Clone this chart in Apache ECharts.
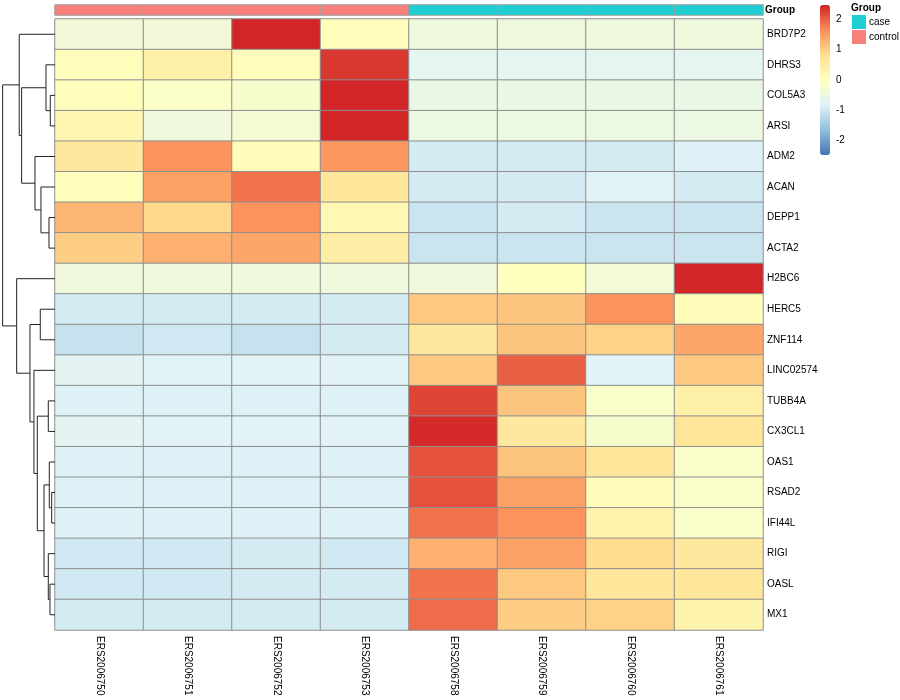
<!DOCTYPE html>
<html><head><meta charset="utf-8">
<script src="https://cdn.jsdelivr.net/npm/echarts@6/dist/echarts.min.js"></script>
<style>html,body{margin:0;padding:0;background:#fff}#c{width:900px;height:700px}</style>
</head><body><div id="c"></div><script>
const samples = ['ERS2006750','ERS2006751','ERS2006752','ERS2006753','ERS2006758','ERS2006759','ERS2006760','ERS2006761'];
const sampleGroup = ['control','control','control','control','case','case','case','case'];
const groupLevels = ['case','control'];
const genes = ['BRD7P2','DHRS3','COL5A3','ARSI','ADM2','ACAN','DEPP1','ACTA2','H2BC6','HERC5','ZNF114','LINC02574','TUBB4A','CX3CL1','OAS1','RSAD2','IFI44L','RIGI','OASL','MX1'];
// row z-scores, one array per gene (display order)
const zBRD7P2   = [-0.38,-0.38, 2.45, 0.05,-0.42,-0.45,-0.43,-0.44];
const zDHRS3    = [ 0.05, 0.40, 0.05, 2.30,-0.70,-0.70,-0.70,-0.70];
const zCOL5A3   = [ 0.05,-0.10,-0.20, 2.45,-0.55,-0.55,-0.55,-0.55];
const zARSI     = [ 0.25,-0.40,-0.30, 2.45,-0.50,-0.50,-0.50,-0.50];
const zADM2     = [ 0.60, 1.60, 0.10, 1.55,-0.95,-0.95,-0.95,-0.85];
const zACAN     = [ 0.05, 1.45, 1.85, 0.65,-0.95,-0.95,-0.80,-0.95];
const zDEPP1    = [ 1.25, 0.90, 1.60, 0.20,-1.05,-0.95,-1.05,-1.05];
const zACTA2    = [ 1.00, 1.30, 1.40, 0.45,-1.05,-1.05,-1.05,-1.05];
const zH2BC6    = [-0.40,-0.40,-0.40,-0.40,-0.40, 0.00,-0.35, 2.45];
const zHERC5    = [-0.95,-0.95,-0.95,-0.95, 1.05, 1.10, 1.60, 0.10];
const zZNF114   = [-1.10,-1.00,-1.10,-0.95, 0.60, 1.10, 0.95, 1.40];
const zLINC02574= [-0.75,-0.80,-0.80,-0.80, 1.05, 2.00,-0.80, 1.05];
const zTUBB4A   = [-0.85,-0.85,-0.85,-0.85, 2.20, 1.10,-0.15, 0.40];
const zCX3CL1   = [-0.75,-0.80,-0.80,-0.80, 2.40, 0.60,-0.20, 0.70];
const zOAS1     = [-0.85,-0.85,-0.85,-0.85, 2.10, 1.10, 0.65,-0.15];
const zRSAD2    = [-0.85,-0.85,-0.85,-0.85, 2.10, 1.45, 0.10,-0.15];
const zIFI44L   = [-0.85,-0.85,-0.85,-0.85, 1.85, 1.60, 0.35,-0.15];
const zRIGI     = [-1.00,-1.00,-0.95,-1.00, 1.30, 1.45, 0.85, 0.60];
const zOASL     = [-1.00,-1.00,-0.95,-0.95, 1.85, 1.05, 0.65, 0.65];
const zMX1      = [-0.95,-0.95,-0.95,-0.95, 1.90, 1.00, 0.95, 0.30];
const zRows = [zBRD7P2,zDHRS3,zCOL5A3,zARSI,zADM2,zACAN,zDEPP1,zACTA2,zH2BC6,zHERC5,zZNF114,zLINC02574,zTUBB4A,zCX3CL1,zOAS1,zRSAD2,zIFI44L,zRIGI,zOASL,zMX1];
const colorTicks = [-2,-1,0,1,2];
const zLimit = 2.47;
// row dendrogram (hclust style): negative = leaf (1-based display row), positive = earlier merge
const merges = [
  [-3,-4],[-16,-17],[-19,-20],[-7,-8],[-15,2],[-13,-14],[-18,3],[-2,1],[5,7],[-6,4],
  [-10,-11],[6,9],[-5,10],[-12,12],[11,14],[8,13],[-1,16],[-9,15],[17,18]
];
const mergeHeights = [0.90,0.63,0.96,1.15,1.09,1.28,1.28,1.72,2.10,2.68,2.81,3.38,3.82,4.02,4.78,6.37,6.83,7.32,10.0];

// ---- build ----
const heatData = [];
zRows.forEach((row, r) => row.forEach((v, c) => heatData.push([c, r, v])));
const annData = sampleGroup.map((g, c) => [c, 0, groupLevels.indexOf(g)]);
const nodePos = [], nodeH = [];
function pos(id){ return id < 0 ? -id - 1 : nodePos[id - 1]; }
function hgt(id){ return id < 0 ? 0 : nodeH[id - 1]; }
const segs = [];
merges.forEach((m, i) => {
  const y1 = pos(m[0]), y2 = pos(m[1]), h = mergeHeights[i];
  segs.push([[hgt(m[0]), y1],[h, y1],[h, y2],[hgt(m[1]), y2]]);
  nodePos.push((y1 + y2) / 2); nodeH.push(h);
});
const maxH = Math.max(...mergeHeights) * 1.05;
const FONT = 'Liberation Sans, Arial, sans-serif';
const L = 55, R = 137, T = 19, B = 70;

const chart = echarts.init(document.getElementById('c'), null, {renderer:'canvas'});
chart.setOption({
  animation: false,
  backgroundColor: '#fff',
  title: {text:'Group', left: 851, top: 3, padding: 0, textStyle:{fontSize:10, fontWeight:'bold', fontFamily: FONT, color:'#000'}},
  grid: [
    {left: L, right: R, top: T, bottom: B},
    {left: L, right: R, top: 5, height: 10},
    {left: 0, width: L, top: T, bottom: B},
    {left: 820, width: 10, top: 5, height: 150}
  ],
  xAxis: [
    {type:'category', gridIndex:0, data: samples, position:'bottom', axisLine:{show:false}, axisTick:{show:false}, splitLine:{show:false},
     axisLabel:{rotate:-90, fontSize:10, color:'#000', fontFamily: FONT, margin:6, interval:0}},
    {type:'category', gridIndex:1, data: samples, show:false},
    {type:'value', gridIndex:2, min:0, max:maxH, inverse:true, show:false},
    {type:'value', gridIndex:3, min:0, max:1, show:false}
  ],
  yAxis: [
    {type:'category', gridIndex:0, data: genes, inverse:true, position:'right', axisLine:{show:false}, axisTick:{show:false}, splitLine:{show:false},
     axisLabel:{fontSize:10, color:'#000', fontFamily: FONT, margin:4, interval:0}},
    {type:'category', gridIndex:1, data: ['Group'], position:'right', axisLine:{show:false}, axisTick:{show:false},
     axisLabel:{fontSize:10, fontWeight:'bold', color:'#000', fontFamily: FONT, margin:2}},
    {type:'value', gridIndex:2, min:-0.5, max:genes.length-0.5, inverse:true, show:false},
    {type:'value', gridIndex:3, min:-zLimit, max:zLimit, position:'right', axisLine:{show:false}, axisTick:{show:false}, splitLine:{show:false},
     axisLabel:{customValues: colorTicks, fontSize:10, color:'#000', fontFamily: FONT, margin:6}}
  ],
  visualMap: [
    {type:'continuous', seriesIndex:0, dimension:2, min:-zLimit, max:zLimit, calculable:false, show:true,
     left:820, top:5, itemWidth:10, itemHeight:150, padding:0, text:null, showLabel:false, hoverLink:false,
     inRange:{color:['#4575B4','#91BFDB','#E0F3F8','#FFFFBF','#FEE090','#FC8D59','#D02226']}},
    {type:'piecewise', seriesIndex:1, dimension:2, orient:'vertical', left:852, top:15, padding:0, align:'left',
     itemWidth:14, itemHeight:14, itemGap:1, itemSymbol:'rect', textGap:3, inverse:true, hoverLink:false,
     textStyle:{fontSize:10, color:'#000', fontFamily: FONT},
     pieces:[{value:0, label:'case', color:'#1FCED3'},{value:1, label:'control', color:'#F8807A'}]}
  ],
  series: [
    {type:'heatmap', xAxisIndex:0, yAxisIndex:0, data: heatData, itemStyle:{borderColor:'#8f8f8f', borderWidth:1}, emphasis:{disabled:true}},
    {type:'heatmap', xAxisIndex:1, yAxisIndex:1, data: annData, itemStyle:{borderColor:'#a0a0a0', borderWidth:1}, emphasis:{disabled:true}},
    {type:'custom', xAxisIndex:2, yAxisIndex:2, data: segs.map((s, i) => [i]), silent:true,
     renderItem: function(params, api){
       const s = segs[params.dataIndex];
       return {type:'polyline', shape:{points: s.map(p => api.coord(p))}, style:{stroke:'#222', lineWidth:1, fill:null}};
     }}
  ]
});
</script></body></html>
